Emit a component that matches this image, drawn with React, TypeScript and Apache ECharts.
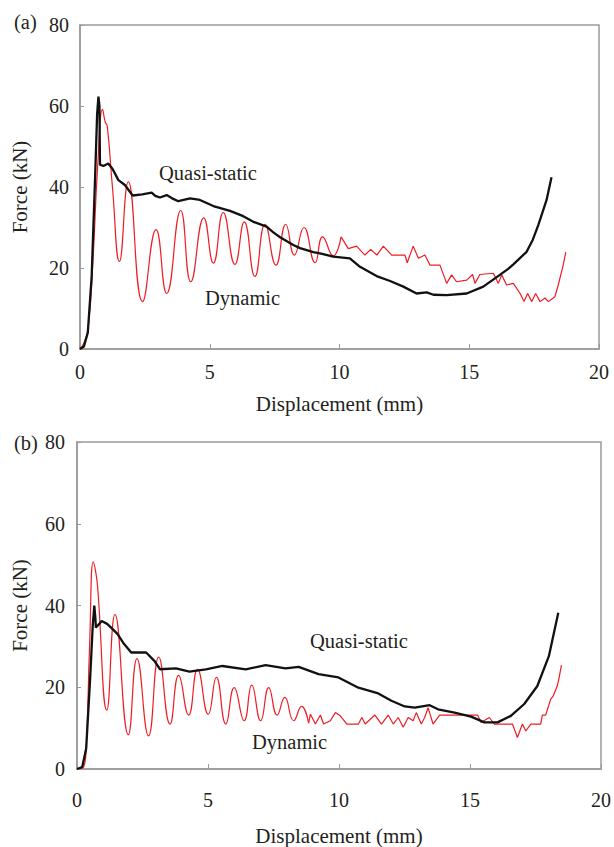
import React, { useEffect, useRef } from "react";
import * as echarts from "echarts";

// Panel (a)
const quasiA: number[][] = [
  [0, 0], [0.15, 0.6], [0.3, 4], [0.45, 18], [0.58, 42], [0.66, 58], [0.71, 62.3], [0.75, 60], [0.77, 45.5],
  [0.9, 45.2], [1.09, 45.8], [1.25, 44.5], [1.48, 41.7], [1.73, 40.5], [1.9, 39], [2.03, 37.9], [2.4, 38.2],
  [2.76, 38.6], [2.9, 37.8], [3.08, 37.4], [3.34, 38], [3.55, 37.2], [3.79, 36.5], [4.24, 37.2], [4.62, 36.8],
  [5.14, 35.3], [5.78, 34.1], [6.29, 32.8], [6.68, 31.4], [7.19, 30.2], [7.45, 28.8], [7.71, 27.6], [8.22, 25.7],
  [8.48, 24.9], [8.99, 23.9], [9.25, 23.6], [9.76, 22.8], [10.4, 22.4], [10.79, 20.3], [11.43, 18.0],
  [11.95, 16.8], [12.46, 15.4], [12.97, 13.7], [13.36, 14.0], [13.62, 13.4], [14.13, 13.3], [14.9, 13.7],
  [15.54, 15.4], [16.18, 18.3], [16.5, 19.8], [16.7, 20.9], [17.21, 24.0], [17.45, 27], [17.66, 30.6],
  [17.98, 36.8], [18.17, 42.4],
];
const dynamicAOsc: number[][] = [
  [0, 0], [0.15, 1.5], [0.32, 5.5], [0.5, 22], [0.68, 45], [0.87, 59.2], [0.97, 56.1], [1.05, 55], [1.25, 40],
  [1.52, 21.6], [1.86, 41.3], [2.41, 11.7], [2.93, 29.5], [3.34, 13.7], [3.88, 34.2], [4.27, 16.6],
  [4.77, 32.4], [5.14, 21.2], [5.52, 33.7], [5.97, 20.9], [6.33, 31.4], [6.74, 17.9], [7.13, 30.8],
  [7.55, 20.7], [7.93, 30.8], [8.26, 23.2], [8.63, 30.0], [9.06, 21.3], [9.35, 27.7], [9.76, 23.0], [10.06, 27.7],
];
const dynamicANoise: number[][] = [
  [10.06, 27.7], [10.34, 24.8], [10.66, 25.4], [10.98, 23.2], [11.2, 24.6], [11.44, 23.2], [11.69, 25.4],
  [12.01, 23.2], [12.52, 23.2], [12.61, 21.3], [12.84, 25.4], [13.04, 22.4], [13.29, 23.2], [13.49, 20.7],
  [13.87, 20.7], [14.13, 16.2], [14.32, 18.3], [14.51, 16.6], [14.9, 17.0], [15.13, 18.4], [15.22, 16.2],
  [15.41, 18.4], [15.93, 18.7], [16.12, 16.2], [16.25, 18.3], [16.44, 15.8], [16.7, 16.2], [16.96, 13.7],
  [17.11, 11.7], [17.25, 13.7], [17.41, 11.7], [17.56, 13.7], [17.73, 11.7], [17.92, 12.6], [18.05, 11.7],
  [18.3, 12.9], [18.43, 15.8], [18.62, 20.7], [18.72, 23.9],
];

// Panel (b)
const quasiB: number[][] = [
  [0, 0], [0.2, 0.5], [0.35, 5], [0.5, 22], [0.6, 35], [0.66, 40], [0.7, 37], [0.72, 34.6], [0.85, 35.5],
  [0.94, 36.2], [1.15, 35.5], [1.38, 34.1], [1.55, 33], [1.76, 30.9], [2.07, 28.5], [2.64, 28.5], [2.96, 26.4],
  [3.17, 24.4], [3.78, 24.6], [4.29, 23.8], [4.92, 24.4], [5.55, 25.2], [6.44, 24.4], [7.2, 25.4], [7.96, 24.6],
  [8.46, 25.0], [9.22, 23.2], [9.98, 22.4], [10.74, 19.9], [11.5, 18.5], [12.0, 16.7], [12.51, 15.3],
  [12.89, 15.0], [13.46, 15.6], [13.78, 14.6], [14.41, 13.8], [15.04, 12.8], [15.55, 11.4], [16.05, 11.4],
  [16.56, 13.0], [17.07, 15.9], [17.57, 20.3], [18.01, 27.6], [18.37, 38.2],
];
const dynamicBOsc: number[][] = [
  [0, 0], [0.25, 0.5], [0.35, 5], [0.48, 30], [0.62, 50.7], [0.72, 48], [0.79, 44.3], [1.14, 14.4],
  [1.45, 37.8], [1.96, 8.4], [2.29, 27.0], [2.73, 8.1], [3.12, 27.4], [3.55, 11.0], [3.88, 22.9], [4.26, 13.2],
  [4.6, 24.4], [5.01, 13.4], [5.32, 22.4], [5.68, 11.0], [6.0, 19.9], [6.38, 11.8], [6.67, 20.5], [7.01, 11.8],
  [7.32, 19.9], [7.64, 13.2], [7.93, 17.5], [8.27, 11.8], [8.57, 15.3], [8.84, 11.2],
];
const dynamicBNoise: number[][] = [
  [8.84, 11.2], [8.91, 13.4], [9.1, 11.0], [9.29, 13.2], [9.41, 11.0], [9.67, 11.8], [9.86, 13.8],
  [10.05, 13.0], [10.3, 11.0], [10.74, 11.0], [10.87, 12.6], [11.0, 11.0], [11.37, 13.2], [11.62, 11.0],
  [11.88, 13.2], [12.07, 11.0], [12.26, 12.6], [12.45, 10.2], [12.64, 12.6], [12.83, 11.8], [12.95, 13.8],
  [13.14, 11.0], [13.27, 12.6], [13.4, 15.0], [13.59, 11.0], [13.84, 13.2], [15.29, 13.2], [15.42, 11.4],
  [15.74, 12.6], [15.93, 11.0], [16.62, 11.0], [16.81, 7.7], [17.0, 11.0], [17.13, 9.3], [17.32, 11.0],
  [17.7, 11.0], [17.76, 13.2], [17.89, 13.2], [18.08, 17.1], [18.18, 17.9], [18.33, 20.3], [18.39, 22],
  [18.49, 25.4],
];

const xTicks = [0, 5, 10, 15, 20];
const yTicks = [0, 20, 40, 60, 80];
const xTitle = "Displacement (mm)";
const yTitle = "Force (kN)";

const FONT = "Liberation Serif";
const TEXT = "#231f20";
const FRAME = "#9a9a9a";
const RED = "#ee1c24";
const BLACK = "#111111";

export default function App() {
  const ref = useRef<HTMLDivElement>(null);
  useEffect(() => {
    if (!ref.current) return;
    const chart = echarts.init(ref.current, undefined, { renderer: "svg" });
    const mkX = (gridIndex: number, labelMargin: number, nameGap: number) => ({
      type: "value",
      gridIndex,
      min: xTicks[0],
      max: xTicks[xTicks.length - 1],
      interval: 5,
      name: xTitle,
      nameLocation: "middle",
      nameGap,
      nameTextStyle: { fontFamily: FONT, fontSize: 21, color: TEXT },
      axisLine: { show: true, lineStyle: { color: FRAME, width: 1.5 } },
      axisTick: { show: true, inside: true, length: 5, lineStyle: { color: FRAME, width: 1 } },
      axisLabel: { fontFamily: FONT, fontSize: 20, color: TEXT, margin: labelMargin },
      splitLine: { show: false },
    });
    const mkY = (gridIndex: number, labelMargin: number, nameGap: number) => ({
      type: "value",
      gridIndex,
      min: yTicks[0],
      max: yTicks[yTicks.length - 1],
      interval: 20,
      name: yTitle,
      nameLocation: "middle",
      nameGap,
      nameTextStyle: { fontFamily: FONT, fontSize: 21, color: TEXT },
      axisLine: { show: true, lineStyle: { color: FRAME, width: 1.5 } },
      axisTick: { show: true, inside: true, length: 4, lineStyle: { color: FRAME, width: 1 } },
      axisLabel: { fontFamily: FONT, fontSize: 20, color: TEXT, margin: labelMargin },
      splitLine: { show: false },
    });
    const line = (data: number[][], xi: number, color: string, width: number, smooth: number | boolean, z: number) => ({
      type: "line",
      xAxisIndex: xi,
      yAxisIndex: xi,
      data,
      showSymbol: false,
      smooth,
      z,
      lineStyle: { color, width },
    });
    const label = (text: string, x: number, y: number) => ({
      type: "text",
      left: x,
      top: y,
      style: { text, fontFamily: FONT, fontSize: 20.5, fill: TEXT },
    });
    chart.setOption({
      animation: false,
      backgroundColor: "#ffffff",
      grid: [
        { left: 80, top: 25, width: 519, height: 324, show: true, borderColor: FRAME, borderWidth: 1.5 },
        { left: 77, top: 442, width: 527, height: 328, show: true, borderColor: FRAME, borderWidth: 1.5 },
      ],
      xAxis: [mkX(0, 13, 44), mkX(1, 21, 56)],
      yAxis: [mkY(0, 11, 50), mkY(1, 12, 47)],
      series: [
        line(dynamicAOsc, 0, RED, 1.2, 0.5, 2),
        line(dynamicANoise, 0, RED, 1.2, false, 2),
        line(quasiA, 0, BLACK, 2.3, false, 3),
        line(dynamicBOsc, 1, RED, 1.2, 0.5, 2),
        line(dynamicBNoise, 1, RED, 1.2, false, 2),
        line(quasiB, 1, BLACK, 2.3, false, 3),
      ],
      graphic: [
        label("(a)", 14, 11),
        label("(b)", 14, 432),
        label("Quasi-static", 159, 162),
        label("Dynamic", 205, 287),
        label("Quasi-static", 310, 630),
        label("Dynamic", 252, 731),
      ],
    });
    return () => chart.dispose();
  }, []);
  return <div ref={ref} style={{ position: "absolute", left: 0, top: 0, width: 614, height: 847 }} />;
}
